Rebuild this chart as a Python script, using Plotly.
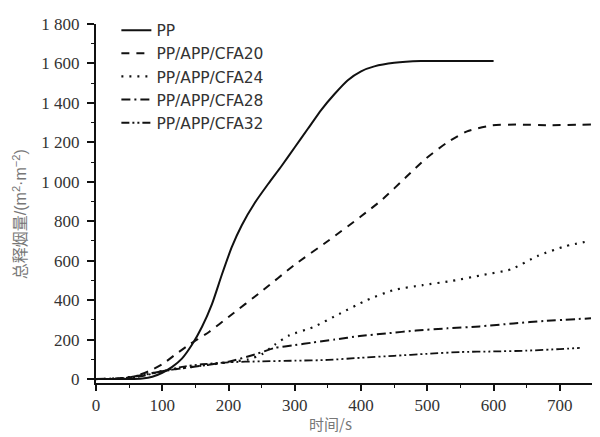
import plotly.graph_objects as go

# ---- data ----
pp_t = [0, 50, 70, 85, 100, 115, 130, 145, 160, 175, 190, 205, 220, 240, 260, 280, 300, 320, 340, 360, 380, 400, 420, 450, 490, 600]
pp_v = [0, 0, 3, 12, 32, 62, 105, 175, 265, 380, 530, 670, 780, 895, 990, 1080, 1175, 1270, 1365, 1445, 1515, 1560, 1585, 1603, 1612, 1612]

c20_t = [0, 40, 60, 80, 100, 120, 141, 171, 200, 250, 300, 350, 400, 432, 468, 498, 529, 560, 598, 634, 684, 747]
c20_v = [0, 3, 15, 40, 75, 125, 175, 240, 315, 445, 580, 700, 825, 910, 1024, 1118, 1197, 1256, 1286, 1290, 1287, 1290]

c24_t = [0, 40, 70, 100, 130, 160, 200, 230, 250, 270, 292, 327, 367, 408, 450, 493, 538, 584, 626, 667, 709, 745]
c24_v = [0, 5, 20, 40, 55, 68, 85, 100, 125, 175, 222, 262, 330, 399, 452, 476, 498, 528, 556, 625, 674, 700]

c28_t = [0, 40, 70, 100, 130, 160, 200, 240, 270, 300, 327, 360, 398, 440, 483, 530, 579, 630, 679, 747]
c28_v = [0, 5, 20, 40, 55, 68, 88, 125, 158, 172, 185, 200, 218, 232, 246, 257, 267, 282, 295, 308]

c32_t = [0, 40, 70, 100, 130, 160, 200, 250, 300, 350, 400, 450, 500, 550, 600, 650, 700, 730]
c32_v = [0, 3, 15, 40, 62, 75, 85, 90, 93, 97, 108, 118, 128, 137, 140, 144, 152, 158]

series_names = ["PP", "PP/APP/CFA20", "PP/APP/CFA24", "PP/APP/CFA28", "PP/APP/CFA32"]

x_tick_vals = [0, 100, 200, 300, 400, 500, 600, 700]
x_tick_text = ["0", "100", "200", "300", "400", "500", "600", "700"]
y_tick_vals = [0, 200, 400, 600, 800, 1000, 1200, 1400, 1600, 1800]
y_tick_text = ["0", "200", "400", "600", "800", "1 000", "1 200", "1 400", "1 600", "1 800"]

x_title = "时间/s"
y_title = "总释烟量/(m<sup>2</sup>·m<sup>−2</sup>)"

# ---- figure ----
fig = go.Figure()
styles = [
    dict(dash="solid", width=2),
    dict(dash="8px,7px", width=2),
    dict(dash="2px,6px", width=2.2),
    dict(dash="9px,4px,2px,4px", width=2),
    dict(dash="8px,3px,2px,3px,2px,3px", width=1.8),
]
data = [(pp_t, pp_v), (c20_t, c20_v), (c24_t, c24_v), (c28_t, c28_v), (c32_t, c32_v)]
for (t, v), name, st in zip(data, series_names, styles):
    fig.add_trace(go.Scatter(
        x=t, y=v, name=name, mode="lines",
        line=dict(color="#111111", shape="spline", smoothing=0.6, **st),
    ))

axis_common = dict(
    showline=True, linecolor="#111111", linewidth=2,
    ticks="outside", tickwidth=1.5, tickcolor="#111111",
    showgrid=False, zeroline=False, automargin=False,
    tickfont=dict(family="Liberation Serif", size=17, color="#333333"),
)

fig.update_layout(
    width=592, height=429,
    margin=dict(l=88, r=7, t=6, b=54),
    paper_bgcolor="white", plot_bgcolor="white",
    showlegend=True,
    legend=dict(
        x=0.041, y=1.029, xanchor="left", yanchor="top",
        bgcolor="rgba(0,0,0,0)",
        font=dict(family="DejaVu Sans", size=15.5, color="#333333"),
        tracegroupgap=0,
    ),
    xaxis=dict(
        range=[0, 750], ticklen=6,
        tickvals=x_tick_vals, ticktext=x_tick_text,
        minor=dict(dtick=50, ticks="outside", ticklen=3, tickwidth=1.2, tickcolor="#111111"),
        **axis_common,
    ),
    yaxis=dict(
        range=[-20, 1800], ticklen=7, ticklabelstandoff=4,
        tickvals=y_tick_vals, ticktext=y_tick_text,
        minor=dict(dtick=100, ticks="outside", ticklen=3, tickwidth=1.2, tickcolor="#111111"),
        **axis_common,
    ),
    annotations=[
        dict(text=x_title, xref="paper", yref="paper", x=0.471, y=-0.114,
             xanchor="center", yanchor="middle", showarrow=False,
             font=dict(family="Noto Sans CJK SC", size=15, color="#777777")),
        dict(text=y_title, xref="paper", yref="paper", x=-0.153, y=0.47,
             xanchor="center", yanchor="middle", showarrow=False, textangle=-90,
             font=dict(family="Liberation Sans, Noto Sans CJK SC", size=16, color="#777777")),
    ],
)

fig.write_html("out.html")
